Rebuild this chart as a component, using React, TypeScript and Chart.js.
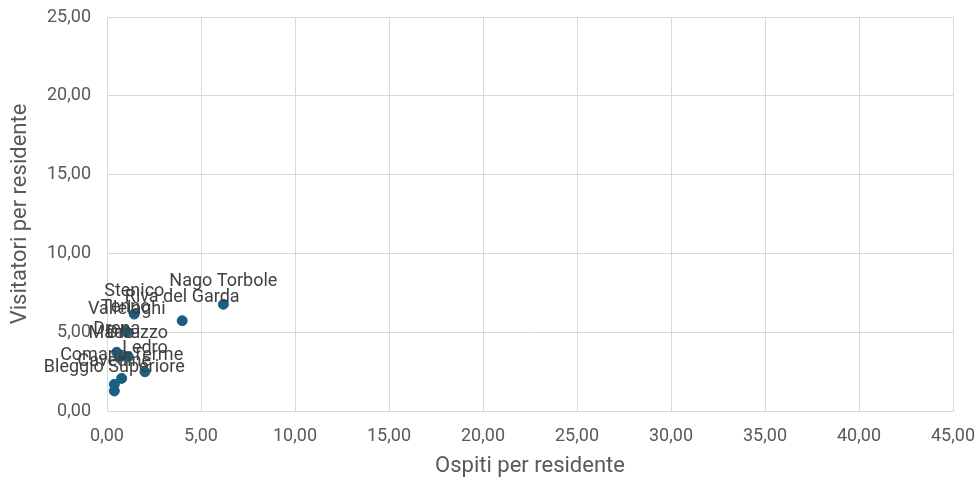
import React, { useEffect, useRef } from "react";
import { Chart, registerables } from "chart.js";

Chart.register(...registerables);

const comuni = [
  "Nago Torbole",
  "Riva del Garda",
  "Stenico",
  "Tenno",
  "Vallelaghi",
  "Drena",
  "Dro",
  "Madruzzo",
  "Ledro",
  "Comano Terme",
  "Cavedine",
  "Bleggio Superiore",
];
const ospiti = [6.19, 4.0, 1.45, 0.99, 1.05, 0.52, 0.72, 1.13, 2.02, 0.78, 0.39, 0.39];
const visitatori = [6.77, 5.73, 6.15, 5.1, 5.0, 3.73, 3.45, 3.45, 2.49, 2.07, 1.69, 1.27];

const xTitle = "Ospiti per residente";
const yTitle = "Visitatori per residente";

const fmt = (v: number) => v.toFixed(2).replace(".", ",");

const labelPlugin = {
  id: "pointLabels",
  afterDatasetsDraw(chart: any) {
    const ctx = chart.ctx;
    const meta = chart.getDatasetMeta(0);
    ctx.save();
    ctx.font = "18px Roboto";
    ctx.fillStyle = "#404040";
    ctx.textAlign = "center";
    ctx.textBaseline = "middle";
    meta.data.forEach((el: any, i: number) => {
      ctx.fillText(comuni[i], el.x, el.y - 23);
    });
    ctx.restore();
  },
};

const noPad = (s: any) => {
  s.paddingTop = 0;
  s.paddingBottom = 0;
  s.paddingLeft = 0;
  s.paddingRight = 0;
};

export default function App() {
  const ref = useRef<HTMLCanvasElement | null>(null);
  useEffect(() => {
    document.body.style.margin = "0";
    const chart = new Chart(ref.current as HTMLCanvasElement, {
      type: "scatter",
      data: {
        datasets: [
          {
            data: ospiti.map((x, i) => ({ x, y: visitatori[i] })),
            backgroundColor: "#1a5e80",
            borderColor: "#1a5e80",
            pointRadius: 5,
            pointHoverRadius: 5,
          },
        ],
      },
      options: {
        responsive: false,
        animation: false,
        layout: { padding: { top: 17, right: 27, left: 0, bottom: 0 } },
        plugins: { legend: { display: false }, tooltip: { enabled: false } },
        scales: {
          x: {
            type: "linear",
            min: 0,
            max: 45,
            afterFit: (s: any) => {
              s.height = 73;
              noPad(s);
            },
            ticks: {
              stepSize: 5,
              callback: (v: any) => fmt(Number(v)),
              color: "#595959",
              font: { family: "Roboto", size: 18 },
              padding: 15,
              maxRotation: 0,
            },
            grid: { color: "#d9d9d9", drawTicks: false },
            border: { color: "#d9d9d9" },
            title: {
              display: true,
              text: xTitle,
              color: "#595959",
              font: { family: "Roboto", size: 22 },
              padding: { top: 4, bottom: 4 },
            },
          },
          y: {
            type: "linear",
            min: 0,
            max: 25,
            afterFit: (s: any) => {
              s.width = 107;
              noPad(s);
            },
            ticks: {
              stepSize: 5,
              callback: (v: any) => fmt(Number(v)),
              color: "#595959",
              font: { family: "Roboto", size: 18 },
              padding: 16,
            },
            grid: { color: "#d9d9d9", drawTicks: false },
            border: { color: "#d9d9d9" },
            title: {
              display: true,
              text: yTitle,
              color: "#595959",
              font: { family: "Roboto", size: 22 },
              padding: { top: 7, bottom: 0 },
            },
          },
        },
      },
      plugins: [labelPlugin],
    } as any);
    return () => chart.destroy();
  }, []);
  return (
    <div style={{ width: 980, height: 484, background: "#fff" }}>
      <canvas ref={ref} width={980} height={484} />
    </div>
  );
}
